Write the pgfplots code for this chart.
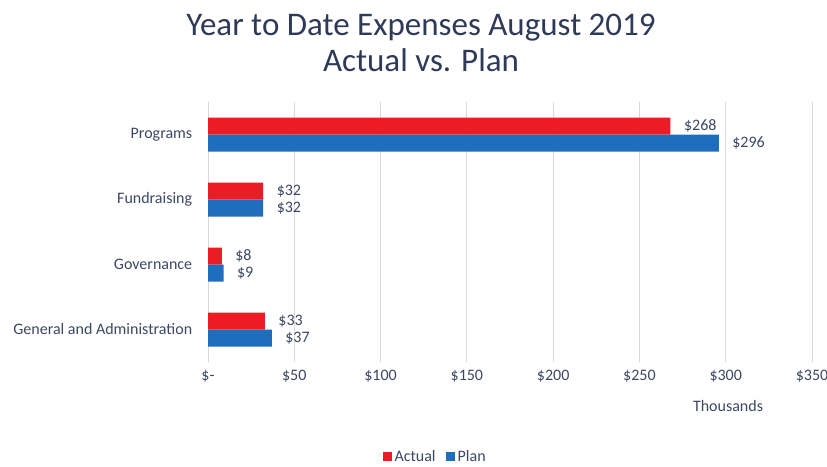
\documentclass[border=0pt]{standalone}
\usepackage{pgfplots}
\pgfplotsset{compat=1.18}
\usepackage{fontspec}
\setmainfont{Carlito}

\definecolor{actred}{HTML}{EC1C24}
\definecolor{planblue}{HTML}{1F6DBD}
\definecolor{txt}{HTML}{3C4764}
\definecolor{ttl}{HTML}{2E3A58}
\definecolor{grd}{HTML}{D9D9D9}

\pgfplotstableread{
y   actual plan
3   268    296
2   32     32
1   8      9
0   33     37
}\expenses

\begin{document}
\begin{tikzpicture}
\useasboundingbox (0pt,0pt) rectangle (827pt,466pt);
% title
\node[text=ttl, font=\fontsize{33}{36}\selectfont, align=center] at (421pt,423pt)
  {Year to Date Expenses August 2019\\Actual vs. Plan};

\begin{axis}[
  at={(208pt,104pt)}, anchor=south west,
  scale only axis,
  width=604pt, height=260pt,
  xbar, bar width=17pt,
  xmin=0, xmax=350,
  ymin=-0.5, ymax=3.5,
  xtick={0,50,...,350},
  xticklabels={\$-,\$50,\$100,\$150,\$200,\$250,\$300,\$350},
  ytick={0,1,2,3},
  yticklabels={General and Administration,Governance,Fundraising,Programs},
  axis line style={draw=none},
  major tick style={draw=none},
  xmajorgrids, major grid style={grd, line width=0.8pt},
  ticklabel style={text=txt, font=\fontsize{16}{19}\selectfont},
  xticklabel style={yshift=-5pt},
  yticklabel style={xshift=-8pt},
  xlabel={Thousands},
  xlabel style={at={(axis description cs:0.861,0)}, anchor=north, yshift=-35pt,
    text=txt, font=\fontsize{16}{19}\selectfont},
  /pgf/number format/assume math mode=true,
  nodes near coords={\$\pgfmathprintnumber{\pgfplotspointmeta}},
  every node near coord/.append style={text=txt, font=\fontsize{16}{19}\selectfont, xshift=10pt},
  legend columns=2,
  legend style={draw=none, at={(axis description cs:0.376,-0.365)}, anchor=center,
    font=\fontsize{16}{19}\selectfont, text=txt,
    /tikz/every odd column/.append style={column sep=1pt},
    /tikz/every even column/.append style={column sep=8pt}},
  legend image code/.code={\fill[#1] (0pt,-4.5pt) rectangle (9pt,4.5pt);},
]
\addplot[fill=actred, draw=none, bar shift=8.5pt] table[x=actual, y=y] {\expenses};
\addplot[fill=planblue, draw=none, bar shift=-8.5pt] table[x=plan, y=y] {\expenses};
\legend{Actual, Plan}
\end{axis}
\end{tikzpicture}
\end{document}
